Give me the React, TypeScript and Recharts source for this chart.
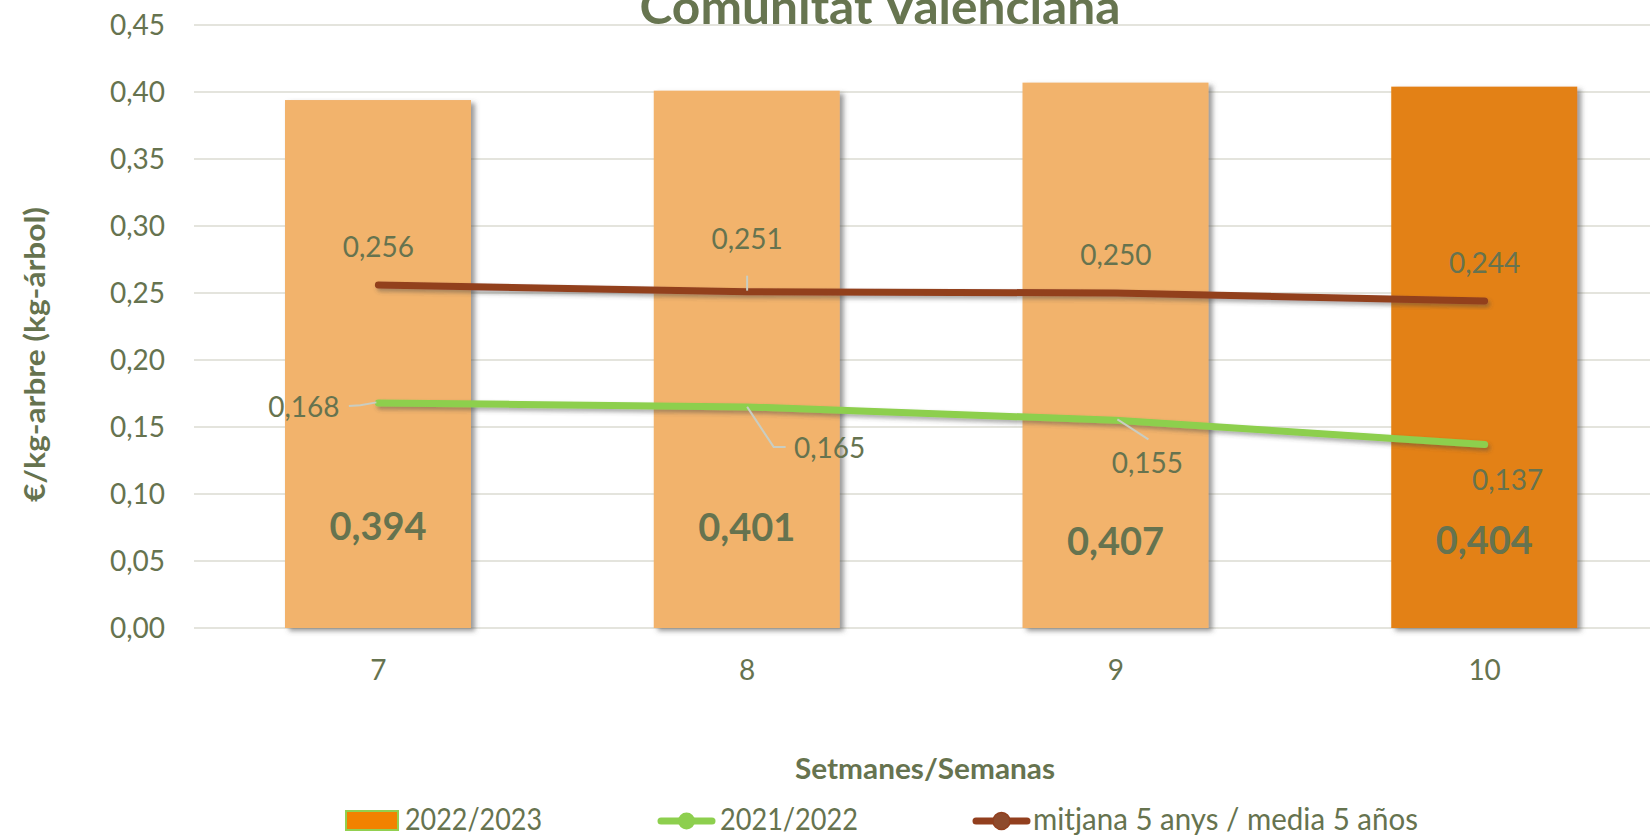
import React from 'react';
import { ComposedChart, Bar, Line, XAxis, YAxis, CartesianGrid, Cell, LabelList, Label, Legend } from 'recharts';

const weeks = ['7', '8', '9', '10'];
const season2223 = [0.394, 0.401, 0.407, 0.404];
const season2122 = [0.168, 0.165, 0.155, 0.137];
const avg5 = [0.256, 0.251, 0.25, 0.244];
const yTicks = [0, 0.05, 0.1, 0.15, 0.2, 0.25, 0.3, 0.35, 0.4, 0.45];
const seriesNames = ['2022/2023', '2021/2022', 'mitjana 5 anys / media 5 años'];

const data = weeks.map((w, i) => ({ week: w, s2223: season2223[i], s2122: season2122[i], avg: avg5[i] }));

const TXT = '#66734F';
const BAR_LIGHT = '#F2B36C';
const BAR_DARK = '#E38113';
const GREEN = '#8DCF4E';
const BROWN = '#923F1E';
const FONT = 'Lato';

const fmt3 = (v: number) => v.toFixed(3).replace('.', ',');
const fmt2 = (v: number) => v.toFixed(2).replace('.', ',');

// label placement (style config, relative to point)
const brownLabelCfg = [
  { dx: 0, dy: -38, leader: null as null | number[][] },
  { dx: 0, dy: -53, leader: [[0, -16], [0, -1]] },
  { dx: 0, dy: -38, leader: null },
  { dx: 0, dy: -38.5, leader: null },
];
const greenLabelCfg = [
  { dx: -74.5, dy: 4, leader: [[-29.5, 3], [-18, 2.3], [-2, -0.5]] as number[][] | null },
  { dx: 82.5, dy: 41, leader: [[0, 0], [26.5, 40], [38.5, 40]] },
  { dx: 31.5, dy: 43, leader: [[1.5, -1], [32.5, 19]] },
  { dx: 23, dy: 36, leader: null },
];
const barLabelFromBottom = [102, 101, 87, 88];

const getXY = (p: any) => {
  const x = p.x ?? p.viewBox?.x;
  const y = p.y ?? p.viewBox?.y;
  return { x, y };
};

const makeLineLabel = (cfg: typeof greenLabelCfg) => (p: any) => {
  const { x, y } = getXY(p);
  const c = cfg[p.index];
  if (x == null || y == null || !c) return null;
  return (
    <g>
      {c.leader && (
        <polyline
          points={c.leader.map(([a, b]) => `${x + a},${y + b}`).join(' ')}
          fill="none"
          stroke="#C9CDC2"
          strokeWidth={2}
        />
      )}
      <text x={x + c.dx} y={y + c.dy + 10} textAnchor="middle" fill={TXT} fontFamily={FONT} fontSize={28}>
        {fmt3(Number(p.value))}
      </text>
    </g>
  );
};

const BarLabel = (p: any) => {
  const vb = p.viewBox || {};
  const x = (vb.x ?? p.x) + (vb.width ?? p.width) / 2;
  const bottom = (vb.y ?? p.y) + (vb.height ?? p.height);
  const off = barLabelFromBottom[p.index] ?? 100;
  return (
    <text x={x} y={bottom - off + 13.5} textAnchor="middle" fill={TXT} fontFamily={FONT} fontWeight={700} fontSize={38}>
      {fmt3(Number(p.value))}
    </text>
  );
};

const BarShape = (p: any) => {
  const { x, y, width, height, fill } = p;
  return <rect x={x} y={y} width={width} height={height} fill={fill} filter="url(#barShadow)" />;
};

const LegendContent = () => (
  <svg width={1650} height={40} style={{ display: 'block', overflow: 'visible' }}>
    <g transform="translate(0,-795)">
      <rect x={346} y={811} width={52} height={19} fill="#F28200" stroke="#92D050" strokeWidth={2} />
      <text x={405} y={830} fill={TXT} fontFamily={FONT} fontSize={30} textLength={137} lengthAdjust="spacingAndGlyphs">
        {seriesNames[0]}
      </text>
      <line x1={661} y1={821} x2={712} y2={821} stroke={GREEN} strokeWidth={7} strokeLinecap="round" />
      <circle cx={686.5} cy={821} r={8.5} fill={GREEN} />
      <text x={720} y={830} fill={TXT} fontFamily={FONT} fontSize={30} textLength={138} lengthAdjust="spacingAndGlyphs">
        {seriesNames[1]}
      </text>
      <line x1={976} y1={821} x2={1027} y2={821} stroke={BROWN} strokeWidth={7} strokeLinecap="round" />
      <circle cx={1001.5} cy={821} r={8.5} fill="#8E4A2C" stroke={BROWN} strokeWidth={1.5} />
      <text x={1033} y={830} fill={TXT} fontFamily={FONT} fontSize={30} textLength={385} lengthAdjust="spacingAndGlyphs">
        {seriesNames[2]}
      </text>
    </g>
  </svg>
);

export default function App() {
  return (
    <div style={{ position: 'absolute', left: 0, top: 0, width: 1650, height: 835, overflow: 'hidden', background: '#fff' }}>
      <svg width={0} height={0} style={{ position: 'absolute' }}>
        <defs>
          <filter id="barShadow" x="-10%" y="-10%" width="130%" height="130%">
            <feDropShadow dx={4} dy={3} stdDeviation={2.5} floodColor="#555" floodOpacity={0.6} />
          </filter>
          <filter id="lineShadow" x="-10%" y="-50%" width="120%" height="200%">
            <feDropShadow dx={2} dy={3} stdDeviation={2} floodColor="#444" floodOpacity={0.45} />
          </filter>
        </defs>
      </svg>
      <ComposedChart
        width={1700}
        height={835}
        data={data}
        margin={{ top: 25, right: 31, bottom: 107, left: 0 }}
        style={{ fontFamily: FONT }}
      >
        <CartesianGrid horizontal vertical={false} stroke="#E4E4DD" strokeWidth={2} />
        <XAxis
          dataKey="week"
          axisLine={false}
          tickLine={false}
          tickMargin={26}
          height={60}
          tick={{ fill: TXT, fontSize: 28, fontFamily: FONT }}
        >
          <Label
            content={() => (
              <text x={925} y={779} textAnchor="middle" fill={TXT} fontFamily={FONT} fontWeight={700} fontSize={29} textLength={260} lengthAdjust="spacingAndGlyphs">
                Setmanes/Semanas
              </text>
            )}
          />
        </XAxis>
        <YAxis
          width={194}
          domain={[0, 0.45]}
          ticks={yTicks}
          tickFormatter={fmt2}
          axisLine={false}
          tickLine={false}
          tickMargin={23}
          interval={0}
          tick={{ fill: TXT, fontSize: 28, fontFamily: FONT }}
        >
          <Label
            content={() => (
              <text
                transform="translate(45,354.5) rotate(-90)"
                textAnchor="middle"
                fill={TXT}
                fontFamily={FONT}
                fontWeight={700}
                fontSize={29}
                textLength={295}
                lengthAdjust="spacingAndGlyphs"
              >
                €/kg-arbre (kg-árbol)
              </text>
            )}
          />
        </YAxis>
        <Bar dataKey="s2223" name={seriesNames[0]} barSize={186} isAnimationActive={false} shape={BarShape}>
          {data.map((_, i) => (
            <Cell key={i} fill={i === data.length - 1 ? BAR_DARK : BAR_LIGHT} />
          ))}
          <LabelList dataKey="s2223" content={BarLabel} />
        </Bar>
        <Line
          dataKey="s2122"
          name={seriesNames[1]}
          stroke={GREEN}
          strokeWidth={7}
          strokeLinecap="round"
          dot={false}
          activeDot={false}
          isAnimationActive={false}
          filter="url(#lineShadow)"
        >
          <LabelList dataKey="s2122" content={makeLineLabel(greenLabelCfg)} />
        </Line>
        <Line
          dataKey="avg"
          name={seriesNames[2]}
          stroke={BROWN}
          strokeWidth={7}
          strokeLinecap="round"
          dot={false}
          activeDot={false}
          isAnimationActive={false}
          filter="url(#lineShadow)"
        >
          <LabelList dataKey="avg" content={makeLineLabel(brownLabelCfg as any)} />
        </Line>
        <Legend content={LegendContent} wrapperStyle={{ position: 'absolute', left: 0, top: 795, width: 1650, height: 40 }} />
      </ComposedChart>
      <svg width={1650} height={60} style={{ position: 'absolute', left: 0, top: 0, overflow: 'hidden' }}>
        <text x={880} y={24} textAnchor="middle" fill="#677550" fontFamily={FONT} fontWeight={700} fontSize={47} textLength={481} lengthAdjust="spacingAndGlyphs">
          Comunitat Valenciana
        </text>
      </svg>
    </div>
  );
}
